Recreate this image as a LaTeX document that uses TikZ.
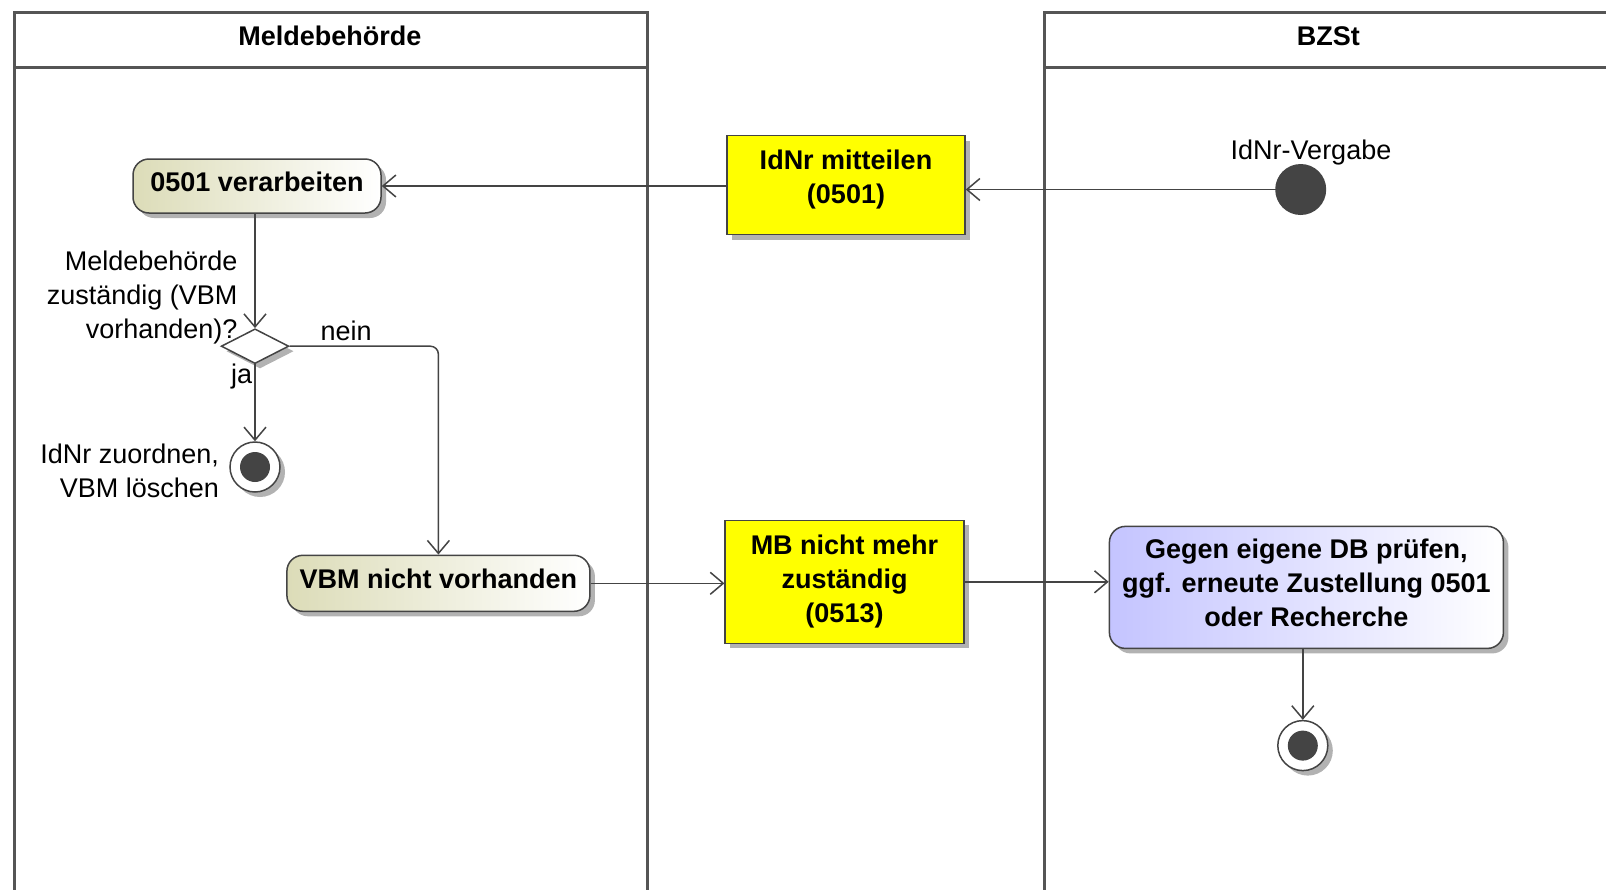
\documentclass[tikz,border=0pt]{standalone}
\usepackage{fontspec}
\setmainfont{Liberation Sans}
\usetikzlibrary{shapes.geometric,arrows.meta,shadows}
\definecolor{ln}{HTML}{444444}
\definecolor{lanec}{HTML}{555555}
\definecolor{actfill}{HTML}{DCDCB8}
\definecolor{bluefill}{HTML}{C4C4FF}
\definecolor{msgyellow}{RGB}{255,255,0}
\newcommand\dgfont{\fontsize{27}{34}\selectfont}
\tikzset{
  flow/.style={draw=ln, line width=1.5pt, -{Straight Barb[length=13pt,width=22pt]}},
  shad/.style={drop shadow={shadow xshift=5pt,shadow yshift=-5pt,fill=black,opacity=0.3}},
  act/.style={draw=ln, line width=1.5pt, rounded corners=16pt, left color=actfill, right color=white, shad, font=\dgfont\bfseries, inner sep=0pt, align=center},
  msg/.style={draw=ln, line width=1.5pt, fill=msgyellow, shad, font=\dgfont\bfseries, align=center, inner sep=0pt},
  lbl/.style={font=\dgfont, inner sep=0pt},
  lane/.style={draw=lanec, line width=3pt},
  endo/.style={circle, draw=ln, fill=white, line width=1.5pt, minimum size=50pt, inner sep=0pt, shad},
  endi/.style={circle, fill=ln, minimum size=30pt, inner sep=0pt}
}
\begin{document}
\begin{tikzpicture}[x=1pt,y=-1pt]
\path[use as bounding box] (0,0) rectangle (1606,889);
\clip (0,0) rectangle (1606,889);
\fill[white] (0,0) rectangle (1606,889);
% lanes
\draw[lane] (14.3,900) -- (14.3,12.3) -- (647.3,12.3) -- (647.3,900);
\draw[lane] (14.3,67.6) -- (647.3,67.6);
\draw[lane] (1044.7,900) -- (1044.7,12.3) -- (1620,12.3);
\draw[lane] (1044.7,67.6) -- (1620,67.6);
\node[lbl, font=\dgfont\bfseries] (lane1) at (329.8,35.8) {Meldebehörde};
\node[lbl, font=\dgfont\bfseries] (lane2) at (1328.4,35.8) {BZSt};
% nodes
\node[act, minimum width=248pt, minimum height=54pt, text depth=8pt] (verarb) at (257,186) {0501 verarbeiten};
\node[msg, minimum width=238pt, minimum height=99pt, text depth=17pt] (mitteil) at (846,185) {IdNr mitteilen\\(0501)};
\node[circle, fill=ln, minimum size=51pt, inner sep=0pt] (start) at (1300.7,189.5) {};
\node[lbl] (startlbl) at (1311,152.5) {IdNr-Vergabe};
\node[diamond, aspect=2, draw=ln, fill=white, line width=1.5pt, minimum width=67.6pt, minimum height=34.8pt, inner sep=0pt, shad] (dec) at (255,346.2) {};
\node[lbl, align=right, anchor=east] (declbl) at (237.6,297.6) {Meldebehörde\\zuständig (VBM\\vorhanden)?};
\node[endo] (end1) at (255,467) {};
\node[endi] (end1dot) at (end1) {};
\node[lbl, align=right, anchor=east] (end1lbl) at (219.2,470.6) {IdNr zuordnen,\\VBM löschen};
\node[act, minimum width=303pt, minimum height=56pt, text depth=10pt] (vbm) at (438.4,583.3) {VBM nicht vorhanden};
\node[msg, minimum width=238.7pt, minimum height=123pt] (mb) at (844.5,581.8) {MB nicht mehr\\zuständig\\(0513)};
\node[act, left color=bluefill, minimum width=394pt, minimum height=122pt, text depth=10pt] (blue) at (1306.4,587.4) {Gegen eigene DB prüfen,\\ggf. erneute Zustellung 0501\\oder Recherche};
\node[endo] (end2) at (1302.8,745.6) {};
\node[endi] (end2dot) at (end2) {};
% edges
\draw[flow] (start.west) -- (start -| mitteil.east);
\draw[flow] (mitteil.west |- verarb.east) -- (verarb.east);
\draw[flow] (dec.north |- verarb.south) -- (dec.north);
\draw[flow] (dec.south) -- (end1.north);
\draw[flow, rounded corners=8pt] (dec.east) -| (vbm.north);
\draw[flow] (vbm.east) -- (mb.west |- vbm.east);
\draw[flow] (mb.east) -- (blue.west |- mb.east);
\draw[flow] (end2.north |- blue.south) -- (end2.north);
\node[lbl] (nein) at (346.2,330.8) {nein};
\node[lbl] (ja) at (241.7,376.9) {ja};
\end{tikzpicture}
\end{document}
